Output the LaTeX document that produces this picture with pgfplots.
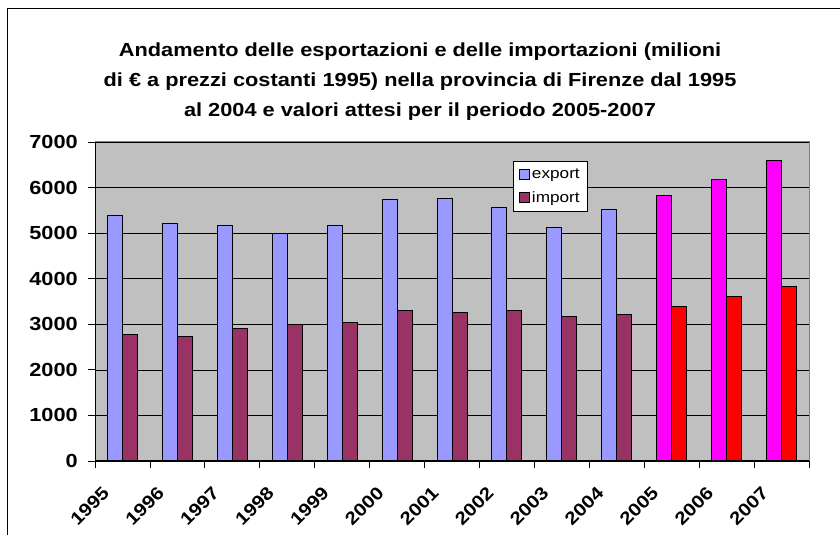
\documentclass[border=0pt]{standalone}
\usepackage{pgfplots}
\pgfplotsset{compat=1.18}
\usepackage{pgfplotstable}
\usepackage{fontspec}
\setmainfont{Liberation Sans}[FakeStretch=1.15]
\definecolor{expc}{HTML}{9999FF}
\definecolor{impc}{HTML}{993366}
\definecolor{fexp}{HTML}{FF00FF}
\definecolor{fimp}{HTML}{FF0000}
\definecolor{bgc}{HTML}{C0C0C0}
\definecolor{brd}{HTML}{808080}
\pgfplotstableread{
x exp imp
0 5380 2780
1 5210 2740
2 5170 2910
3 4990 3000
4 5170 3040
5 5730 3300
6 5770 3250
7 5560 3300
8 5120 3170
9 5510 3220
}\hist
\pgfplotstableread{
x exp imp
10 5820 3390
11 6170 3610
12 6600 3830
}\fcst
\begin{document}
\begin{tikzpicture}[x=1bp,y=1bp]
\path[use as bounding box] (0,0) rectangle (840,535);
\draw[line width=1bp] (7,0) -- (7,526) -- (840,526);
\begin{scope}[font=\bfseries\fontsize{19}{22}\selectfont]
\node[anchor=base] at (420,478) {Andamento delle esportazioni e delle importazioni (milioni};
\node[anchor=base] at (420,448) {di € a prezzi costanti 1995) nella provincia di Firenze dal 1995};
\node[anchor=base] at (420,418) {al 2004 e valori attesi per il periodo 2005-2007};
\end{scope}
\begin{axis}[
  name=ax,
  at={(95bp,74bp)}, anchor=south west,
  scale only axis, width=714bp, height=319bp,
  xmin=-0.5, xmax=12.5, ymin=0, ymax=7000,
  axis lines*=left, axis line style={-, black, line width=1bp},
  axis background/.style={fill=bgc},
  ytick={0,1000,...,7000},
  ymajorgrids, major grid style={black, line width=0.7bp},
  tick align=outside, major tick length=7bp,
  tick style={black, line width=0.8bp},
  xtick={-0.5,0.5,...,12.5}, xticklabels={},
  extra x ticks={0,1,...,12},
  extra x tick labels={1995,1996,1997,1998,1999,2000,2001,2002,2003,2004,2005,2006,2007},
  extra x tick style={major tick length=0pt, xticklabel style={xshift=-21bp, yshift=-24bp, rotate=45, anchor=north east, inner sep=0pt}},
  /pgf/number format/assume math mode=true,
  /pgf/number format/1000 sep={},
  xticklabel style={font=\bfseries\fontsize{18}{20}\selectfont},
  yticklabel style={font=\bfseries\fontsize{19}{20}\selectfont, anchor=east, inner sep=0pt, xshift=-10bp},
  legend style={at={(0.585,0.94)}, anchor=north west, draw=black, line width=0.8bp, fill=white,
    font=\fontsize{15}{17}\selectfont, inner xsep=6bp, inner ysep=5bp, row sep=8bp,
    cells={anchor=west}},
  legend image code/.code={\draw[#1,/tikz/.cd,line width=0.9bp] (0bp,-5bp) rectangle (10bp,5bp);},
]
\addplot[ybar, bar width=15bp, bar shift=-7.5bp, fill=expc, draw=black, line width=1bp] table[x=x, y=exp] {\hist};
\addlegendentry{export}
\addplot[ybar, bar width=15bp, bar shift=7.5bp, fill=impc, draw=black, line width=1bp] table[x=x, y=imp] {\hist};
\addlegendentry{import}
\addplot[ybar, forget plot, bar width=15bp, bar shift=-7.5bp, fill=fexp, draw=black, line width=1bp] table[x=x, y=exp] {\fcst};
\addplot[ybar, forget plot, bar width=15bp, bar shift=7.5bp, fill=fimp, draw=black, line width=1bp] table[x=x, y=imp] {\fcst};
\end{axis}
\draw[brd, line width=1bp] (ax.north west) -- (ax.north east) -- (ax.south east);
\end{tikzpicture}
\end{document}
